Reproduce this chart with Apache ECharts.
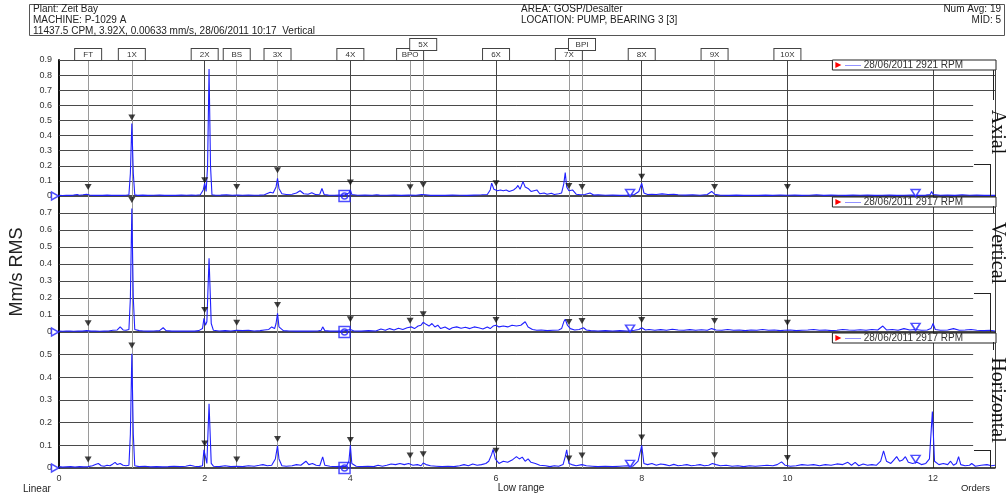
<!DOCTYPE html>
<html>
<head>
<meta charset="utf-8">
<script src="https://cdn.jsdelivr.net/npm/echarts@6/dist/echarts.min.js"></script>
<style>
html,body{margin:0;padding:0;background:#fff;}
#chart{width:1008px;height:496px;}
</style>
</head>
<body>
<div id="chart"></div>
<script>
// ---------------- DATA ----------------
const headerLeft = ['Plant: Zeit Bay', 'MACHINE: P-1029 A', '11437.5 CPM, 3.92X, 0.00633 mm/s, 28/06/2011 10:17  Vertical'];
const headerMid = ['AREA: GOSP/Desalter', 'LOCATION: PUMP, BEARING 3 [3]'];
const headerRight = ['Num Avg: 19', 'MID: 5'];

const panelTitles = ['Axial', 'Vertical', 'Horizontal'];
const legendNames = ['28/06/2011 2921 RPM', '28/06/2011 2917 RPM', '28/06/2011 2917 RPM'];
const panelMax = [0.9, 0.8, 0.6];
const xTickLabels = [0, 2, 4, 6, 8, 10, 12];

const markerNames  = ['FT', '1X', '2X', 'BS', '3X', '4X', 'BPO', '5X', '6X', '7X', 'BPI', '8X', '9X', '10X'];
const markerOrders = [0.4, 1, 2, 2.44, 3, 4, 4.82, 5, 6, 7, 7.18, 8, 9, 10];
const axialTri = [0.06, 0.52, 0.105, 0.06, 0.17, 0.09, 0.058, 0.075, 0.085, 0.066, 0.06, 0.128, 0.06, 0.06];
const vertTri  = [0.051, 0.776, 0.13, 0.055, 0.159, 0.075, 0.066, 0.104, 0.07, 0.059, 0.065, 0.07, 0.065, 0.055];
const horizTri = [0.037, 0.54, 0.108, 0.037, 0.128, 0.123, 0.055, 0.061, 0.076, 0.042, 0.055, 0.135, 0.056, 0.044];

const bandOrders = [7.84, 11.76];
const axialBand = [0.02, 0.02];
const vertBand  = [0.02, 0.03];
const horizBand = [0.018, 0.04];

const cursorOrder = 3.92;

const axialSpec = [
[0,0.004],[0.05,0.003],[0.1,0.005],[0.15,0.004],[0.2,0.006],[0.25,0.01],[0.28,0.005],[0.33,0.008],[0.38,0.012],[0.42,0.006],[0.48,0.004],[0.55,0.005],[0.6,0.004],[0.66,0.006],[0.72,0.004],[0.8,0.005],[0.86,0.004],[0.92,0.005],[0.96,0.008],[0.98,0.15],[1.0,0.48],[1.02,0.15],[1.04,0.008],[1.08,0.004],[1.15,0.006],[1.22,0.004],[1.3,0.005],[1.38,0.006],[1.45,0.004],[1.52,0.005],[1.6,0.004],[1.68,0.006],[1.75,0.005],[1.82,0.006],[1.88,0.005],[1.94,0.008],[1.98,0.04],[2.0,0.085],[2.02,0.03],[2.04,0.2],[2.06,0.84],[2.08,0.2],[2.1,0.008],[2.15,0.005],[2.22,0.006],[2.3,0.008],[2.38,0.005],[2.45,0.007],[2.52,0.005],[2.6,0.006],[2.68,0.005],[2.75,0.006],[2.82,0.008],[2.9,0.025],[2.94,0.02],[2.98,0.06],[3.0,0.117],[3.02,0.05],[3.06,0.015],[3.12,0.01],[3.2,0.012],[3.26,0.02],[3.31,0.035],[3.36,0.015],[3.42,0.012],[3.47,0.022],[3.52,0.01],[3.58,0.012],[3.61,0.05],[3.64,0.01],[3.7,0.006],[3.78,0.005],[3.85,0.006],[3.92,0.006],[3.98,0.02],[4.0,0.04],[4.02,0.01],[4.1,0.005],[4.2,0.006],[4.3,0.005],[4.36,0.008],[4.38,0.02],[4.4,0.006],[4.5,0.005],[4.6,0.006],[4.7,0.004],[4.8,0.006],[4.9,0.005],[4.98,0.01],[5.0,0.022],[5.03,0.008],[5.1,0.004],[5.2,0.005],[5.3,0.004],[5.4,0.006],[5.5,0.005],[5.6,0.004],[5.7,0.006],[5.8,0.008],[5.88,0.01],[5.92,0.04],[5.94,0.085],[5.97,0.045],[6.02,0.035],[6.06,0.04],[6.1,0.035],[6.14,0.04],[6.18,0.03],[6.24,0.04],[6.28,0.055],[6.3,0.07],[6.33,0.045],[6.37,0.095],[6.4,0.06],[6.44,0.05],[6.48,0.03],[6.52,0.035],[6.56,0.04],[6.6,0.015],[6.66,0.02],[6.7,0.012],[6.76,0.018],[6.8,0.01],[6.86,0.015],[6.9,0.02],[6.93,0.08],[6.95,0.155],[6.97,0.06],[7.0,0.035],[7.05,0.04],[7.1,0.012],[7.16,0.008],[7.22,0.01],[7.29,0.02],[7.34,0.006],[7.4,0.008],[7.5,0.005],[7.6,0.006],[7.7,0.004],[7.8,0.006],[7.9,0.01],[7.96,0.03],[8.0,0.084],[8.03,0.02],[8.08,0.01],[8.14,0.012],[8.2,0.01],[8.28,0.014],[8.36,0.01],[8.44,0.012],[8.5,0.008],[8.6,0.006],[8.7,0.008],[8.8,0.005],[8.9,0.01],[8.96,0.03],[9.0,0.012],[9.08,0.005],[9.2,0.004],[9.3,0.006],[9.4,0.004],[9.5,0.005],[9.6,0.004],[9.7,0.006],[9.8,0.004],[9.9,0.007],[10.0,0.005],[10.1,0.006],[10.2,0.004],[10.3,0.005],[10.4,0.008],[10.5,0.004],[10.6,0.006],[10.7,0.005],[10.8,0.004],[10.9,0.006],[11.0,0.005],[11.1,0.007],[11.2,0.004],[11.3,0.005],[11.4,0.006],[11.5,0.004],[11.6,0.005],[11.7,0.006],[11.8,0.004],[11.9,0.006],[11.96,0.01],[11.98,0.03],[12.0,0.01],[12.1,0.005],[12.2,0.006],[12.3,0.004],[12.4,0.008],[12.5,0.005],[12.6,0.006],[12.7,0.004],[12.8,0.005],[12.85,0.004]
];

const vertSpec = [
[0,0.005],[0.05,0.004],[0.1,0.006],[0.15,0.005],[0.2,0.004],[0.26,0.006],[0.32,0.005],[0.38,0.008],[0.44,0.005],[0.5,0.006],[0.56,0.004],[0.62,0.005],[0.68,0.006],[0.74,0.01],[0.8,0.012],[0.84,0.03],[0.88,0.012],[0.92,0.01],[0.96,0.015],[0.98,0.2],[1.0,0.727],[1.02,0.2],[1.04,0.015],[1.1,0.008],[1.16,0.006],[1.22,0.005],[1.3,0.006],[1.38,0.008],[1.43,0.025],[1.47,0.008],[1.55,0.005],[1.62,0.006],[1.7,0.005],[1.78,0.006],[1.86,0.005],[1.92,0.008],[1.97,0.02],[1.99,0.08],[2.01,0.04],[2.03,0.06],[2.06,0.433],[2.09,0.05],[2.12,0.01],[2.2,0.006],[2.28,0.008],[2.36,0.006],[2.44,0.01],[2.52,0.008],[2.6,0.01],[2.68,0.006],[2.76,0.008],[2.82,0.012],[2.88,0.015],[2.92,0.03],[2.96,0.02],[2.98,0.05],[3.0,0.11],[3.02,0.03],[3.04,0.02],[3.08,0.008],[3.16,0.006],[3.25,0.005],[3.35,0.006],[3.45,0.005],[3.55,0.006],[3.6,0.01],[3.62,0.03],[3.65,0.008],[3.72,0.005],[3.8,0.006],[3.9,0.005],[4.0,0.015],[4.05,0.006],[4.15,0.005],[4.25,0.008],[4.35,0.006],[4.42,0.018],[4.48,0.01],[4.54,0.02],[4.6,0.012],[4.66,0.022],[4.72,0.015],[4.78,0.025],[4.84,0.03],[4.88,0.02],[4.93,0.035],[4.97,0.04],[5.0,0.057],[5.04,0.045],[5.08,0.035],[5.12,0.05],[5.16,0.03],[5.2,0.04],[5.24,0.02],[5.3,0.03],[5.36,0.015],[5.4,0.025],[5.46,0.03],[5.52,0.022],[5.58,0.028],[5.64,0.02],[5.7,0.03],[5.76,0.025],[5.82,0.018],[5.88,0.03],[5.92,0.02],[5.96,0.035],[6.0,0.04],[6.04,0.03],[6.1,0.035],[6.16,0.03],[6.22,0.04],[6.28,0.035],[6.34,0.04],[6.4,0.06],[6.44,0.03],[6.5,0.015],[6.56,0.01],[6.62,0.012],[6.7,0.008],[6.78,0.01],[6.86,0.012],[6.9,0.02],[6.93,0.06],[6.95,0.075],[6.98,0.04],[7.02,0.02],[7.08,0.012],[7.14,0.015],[7.2,0.025],[7.24,0.012],[7.3,0.008],[7.4,0.006],[7.5,0.008],[7.6,0.006],[7.7,0.008],[7.8,0.006],[7.9,0.01],[7.96,0.015],[8.0,0.025],[8.05,0.012],[8.1,0.015],[8.18,0.01],[8.26,0.014],[8.34,0.01],[8.42,0.016],[8.5,0.012],[8.58,0.01],[8.66,0.014],[8.74,0.01],[8.82,0.013],[8.9,0.01],[8.96,0.02],[9.02,0.012],[9.1,0.01],[9.18,0.015],[9.26,0.01],[9.34,0.012],[9.42,0.008],[9.5,0.012],[9.58,0.01],[9.66,0.015],[9.74,0.01],[9.82,0.012],[9.9,0.008],[9.96,0.01],[10.04,0.012],[10.12,0.008],[10.2,0.01],[10.28,0.012],[10.36,0.015],[10.44,0.01],[10.52,0.012],[10.6,0.008],[10.68,0.01],[10.76,0.015],[10.84,0.012],[10.92,0.01],[11.0,0.013],[11.08,0.01],[11.16,0.015],[11.24,0.012],[11.31,0.035],[11.36,0.012],[11.44,0.015],[11.52,0.01],[11.6,0.02],[11.68,0.012],[11.76,0.015],[11.84,0.01],[11.92,0.012],[11.97,0.02],[12.0,0.05],[12.03,0.015],[12.1,0.01],[12.2,0.012],[12.28,0.02],[12.36,0.01],[12.44,0.012],[12.52,0.015],[12.6,0.01],[12.7,0.008],[12.78,0.01],[12.85,0.006]
];

const horizSpec = [
[0,0.006],[0.05,0.004],[0.1,0.005],[0.16,0.006],[0.22,0.004],[0.28,0.006],[0.34,0.005],[0.4,0.006],[0.46,0.01],[0.5,0.015],[0.54,0.02],[0.58,0.01],[0.62,0.008],[0.66,0.012],[0.7,0.01],[0.74,0.018],[0.77,0.025],[0.8,0.015],[0.84,0.02],[0.88,0.012],[0.92,0.01],[0.96,0.012],[0.98,0.15],[1.0,0.504],[1.02,0.15],[1.04,0.01],[1.1,0.006],[1.18,0.008],[1.26,0.005],[1.34,0.006],[1.42,0.005],[1.5,0.006],[1.58,0.008],[1.66,0.006],[1.74,0.008],[1.8,0.012],[1.86,0.008],[1.92,0.006],[1.97,0.01],[1.99,0.08],[2.01,0.05],[2.03,0.02],[2.06,0.283],[2.09,0.02],[2.12,0.008],[2.2,0.006],[2.28,0.01],[2.36,0.006],[2.44,0.008],[2.52,0.006],[2.6,0.01],[2.68,0.008],[2.75,0.012],[2.8,0.015],[2.86,0.01],[2.92,0.012],[2.97,0.04],[3.0,0.098],[3.02,0.04],[3.06,0.01],[3.12,0.008],[3.2,0.01],[3.26,0.015],[3.32,0.012],[3.39,0.03],[3.43,0.015],[3.48,0.02],[3.53,0.012],[3.58,0.01],[3.62,0.049],[3.65,0.012],[3.72,0.008],[3.8,0.006],[3.88,0.008],[3.94,0.006],[3.98,0.03],[4.0,0.1],[4.02,0.02],[4.08,0.008],[4.16,0.006],[4.24,0.008],[4.32,0.006],[4.38,0.012],[4.44,0.008],[4.5,0.012],[4.56,0.018],[4.62,0.015],[4.68,0.02],[4.74,0.015],[4.8,0.02],[4.86,0.012],[4.92,0.015],[4.97,0.01],[5.0,0.022],[5.04,0.015],[5.1,0.01],[5.18,0.008],[5.26,0.006],[5.34,0.008],[5.42,0.006],[5.5,0.01],[5.56,0.015],[5.62,0.01],[5.68,0.018],[5.74,0.012],[5.8,0.015],[5.86,0.02],[5.9,0.03],[5.94,0.06],[5.96,0.082],[5.99,0.04],[6.04,0.02],[6.1,0.03],[6.16,0.025],[6.22,0.035],[6.28,0.05],[6.32,0.04],[6.36,0.048],[6.4,0.03],[6.44,0.04],[6.48,0.025],[6.54,0.02],[6.6,0.012],[6.68,0.01],[6.74,0.006],[6.8,0.01],[6.86,0.008],[6.92,0.015],[6.95,0.05],[6.97,0.08],[7.0,0.02],[7.04,0.015],[7.1,0.01],[7.18,0.015],[7.24,0.01],[7.32,0.008],[7.4,0.006],[7.5,0.008],[7.6,0.006],[7.7,0.008],[7.8,0.01],[7.88,0.008],[7.95,0.03],[8.0,0.1],[8.03,0.02],[8.08,0.015],[8.14,0.02],[8.2,0.012],[8.26,0.018],[8.32,0.015],[8.38,0.01],[8.44,0.016],[8.5,0.01],[8.56,0.012],[8.62,0.015],[8.68,0.01],[8.74,0.012],[8.8,0.015],[8.86,0.01],[8.92,0.012],[8.97,0.02],[9.02,0.015],[9.08,0.01],[9.16,0.012],[9.24,0.008],[9.32,0.01],[9.4,0.006],[9.48,0.01],[9.56,0.008],[9.64,0.01],[9.72,0.012],[9.8,0.01],[9.86,0.015],[9.92,0.027],[9.97,0.012],[10.04,0.008],[10.12,0.01],[10.2,0.015],[10.28,0.012],[10.36,0.015],[10.44,0.01],[10.52,0.015],[10.6,0.012],[10.68,0.018],[10.76,0.015],[10.83,0.025],[10.88,0.012],[10.93,0.025],[10.98,0.01],[11.04,0.018],[11.1,0.012],[11.16,0.015],[11.22,0.012],[11.28,0.03],[11.32,0.076],[11.36,0.03],[11.42,0.02],[11.46,0.035],[11.5,0.05],[11.54,0.03],[11.58,0.035],[11.62,0.05],[11.66,0.025],[11.72,0.02],[11.78,0.025],[11.84,0.015],[11.9,0.02],[11.95,0.04],[11.99,0.249],[12.02,0.03],[12.08,0.015],[12.14,0.02],[12.2,0.015],[12.24,0.03],[12.28,0.012],[12.32,0.02],[12.35,0.05],[12.38,0.015],[12.44,0.01],[12.5,0.012],[12.53,0.02],[12.58,0.008],[12.66,0.012],[12.74,0.015],[12.8,0.01],[12.85,0.012]
];

// ---------------- LAYOUT ----------------
const X_MAX = 12.85, GRID_END = 12.55;
const GL = 59, GW = 936, GT = [60, 196, 332], GH = 136;
const BLUE = '#2020ff';
const FONT = '"Liberation Sans", Arial, sans-serif';
const specs = [axialSpec, vertSpec, horizSpec];
const tris = [axialTri, vertTri, horizTri];
const bands = [axialBand, vertBand, horizBand];
const longLines = [[0.9, 0.8, 0.7], [0.7], []];

const grids = [], xAxes = [], yAxes = [], series = [], legends = [];

for (let i = 0; i < 3; i++) {
  grids.push({left: GL, top: GT[i], width: GW, height: GH});
  xAxes.push({
    type: 'value', gridIndex: i, min: 0, max: X_MAX, interval: 2, z: 0,
    axisLine: {show: true, lineStyle: {color: '#111', width: 1.5}},
    axisTick: {show: false},
    axisLabel: {show: i === 2, fontSize: 9, color: '#333', fontFamily: FONT, margin: 6,
      formatter: v => xTickLabels.indexOf(v) >= 0 ? String(v) : ''},
    splitLine: {show: true, lineStyle: {color: '#444', width: 1}}
  });
  yAxes.push({
    type: 'value', gridIndex: i, min: 0, max: panelMax[i], interval: 0.1,
    axisLine: {show: true, lineStyle: {color: '#111', width: 2}},
    axisTick: {show: false},
    axisLabel: {fontSize: 9, color: '#333', fontFamily: FONT, margin: 7, showMaxLabel: i === 0,
      formatter: v => v === 0 ? '0' : v.toFixed(1)},
    splitLine: {show: false}
  });

  // grid lines + marker lines
  const ml = [];
  for (let k = 1; k * 0.1 <= panelMax[i] + 1e-9; k++) {
    const v = +(k * 0.1).toFixed(1);
    if (i > 0 && Math.abs(v - panelMax[i]) < 1e-9) continue;
    const end = longLines[i].some(t => Math.abs(t - v) < 1e-9) ? X_MAX : GRID_END;
    ml.push([{coord: [0, v]}, {coord: [end, v]}]);
  }
  markerOrders.forEach((o, k) => {
    const even = Math.abs(o % 2) < 1e-9;
    const item = {xAxis: o, name: markerNames[k],
      lineStyle: {color: even ? '#444' : '#9a9a9a', width: 1, type: 'solid'}};
    if (i === 0) {
      const raised = (markerNames[k] === '5X' || markerNames[k] === 'BPI');
      item.label = {show: true, position: 'end', formatter: '{b}', distance: raised ? 10 : 0,
        fontSize: 8, color: '#333', fontFamily: FONT, backgroundColor: '#fff',
        borderColor: '#444', borderWidth: 1, width: 24, align: 'center', padding: [1, 1, 0, 1], lineHeight: 10};
    }
    ml.push(item);
  });
  series.push({
    type: 'line', xAxisIndex: i, yAxisIndex: i, data: [[0, 0]], symbol: 'none',
    lineStyle: {width: 0}, silent: true, z: 1,
    markLine: {symbol: ['none', 'none'], silent: true, animation: false, z: 1,
      label: {show: false}, lineStyle: {color: '#4a4a4a', width: 1, type: 'solid'}, data: ml}
  });
  // spectrum
  series.push({
    name: legendNames[i], type: 'line', xAxisIndex: i, yAxisIndex: i, data: specs[i],
    showSymbol: false, symbol: 'none', lineStyle: {color: BLUE, width: 1.1}, itemStyle: {color: BLUE}, z: 3
  });
  // black marker triangles
  series.push({
    type: 'scatter', xAxisIndex: i, yAxisIndex: i, clip: false, z: 4,
    data: markerOrders.map((o, k) => [o, tris[i][k]]),
    symbol: 'triangle', symbolRotate: 180, symbolSize: [7, 6], itemStyle: {color: '#111'}
  });
  // blue hollow band triangles
  series.push({
    type: 'scatter', xAxisIndex: i, yAxisIndex: i, clip: false, z: 4,
    data: bandOrders.map((o, k) => [o, bands[i][k]]),
    symbol: 'triangle', symbolRotate: 180, symbolSize: [9, 7],
    itemStyle: {color: '#fff', borderColor: BLUE, borderWidth: 1.5}
  });
  // cursor
  series.push({
    type: 'scatter', xAxisIndex: i, yAxisIndex: i, clip: false, z: 5,
    data: [[cursorOrder, 0]], symbol: 'rect', symbolSize: 11,
    itemStyle: {color: 'rgba(0,0,0,0)', borderColor: BLUE, borderWidth: 1.5}
  });
  series.push({
    type: 'scatter', xAxisIndex: i, yAxisIndex: i, clip: false, z: 5,
    data: [[cursorOrder, 0]], symbol: 'circle', symbolSize: 6,
    itemStyle: {color: 'rgba(0,0,0,0)', borderColor: BLUE, borderWidth: 1.5}
  });
  // left start triangle
  series.push({
    type: 'scatter', xAxisIndex: i, yAxisIndex: i, clip: false, z: 5,
    data: [[0, 0]], symbol: 'triangle', symbolRotate: -90, symbolSize: [8, 7], symbolOffset: [-4, 0],
    itemStyle: {color: '#fff', borderColor: BLUE, borderWidth: 1.5}
  });

  legends.push({
    right: 12, top: GT[i] + (i === 0 ? 0 : 1), orient: 'horizontal', selectedMode: false,
    data: [legendNames[i]], icon: 'path://M0,0L10,5L0,10Z', itemWidth: 7, itemHeight: 6,
    itemStyle: {color: '#ff0000'},
    backgroundColor: '#fff', borderColor: '#222', borderWidth: 1, padding: [0, 33, 0, 3],
    formatter: n => '{ln|——} ' + n,
    textStyle: {fontSize: 10, color: '#333', fontFamily: FONT, lineHeight: 10, padding: [0, 0, 0, -2],
      rich: {ln: {color: BLUE, fontSize: 8}}}
  });
}

// ---------------- GRAPHICS (decoration text) ----------------
const graphic = [];
graphic.push({type: 'rect', shape: {x: 29.5, y: 4.5, width: 975, height: 31}, style: {fill: '#fff', stroke: '#555', lineWidth: 1}, z: 0});
function txt(t, x, y, size, align, extra) {
  return Object.assign({type: 'text', x: x, y: y, z: 10, style: {text: t, fontSize: size, fontFamily: FONT,
    fill: '#222', align: align, textAlign: align, verticalAlign: 'middle', textVerticalAlign: 'middle'}}, extra || {});
}
const hy = [9.5, 20, 31];
headerLeft.forEach((t, k) => graphic.push(txt(t, 33, hy[k], 10, 'left')));
headerMid.forEach((t, k) => graphic.push(txt(t, 521, hy[k], 10, 'left')));
headerRight.forEach((t, k) => graphic.push(txt(t, 1001, hy[k], 10, 'right')));

graphic.push(Object.assign(txt('Mm/s RMS', 17, 272, 18, 'center'), {rotation: Math.PI / 2}));
graphic.push(txt('Linear', 23, 489, 10, 'left'));
graphic.push(txt('Low range', 521, 488, 10, 'center'));
graphic.push(txt('Orders', 990, 488, 9.5, 'right'));

const labelCenters = [132, 253, 400];
const labelHalf = [24, 32, 42];
for (let i = 0; i < 3; i++) {
  const t = Object.assign(txt(panelTitles[i], 997, labelCenters[i], 20, 'center'), {rotation: -Math.PI / 2});
  t.style.fontFamily = '"Liberation Serif", "Times New Roman", serif';
  t.style.fill = '#111';
  graphic.push(t);
  const top = GT[i], bot = GT[i] + GH;
  const a = labelCenters[i] - labelHalf[i] - 8, b = labelCenters[i] + labelHalf[i] + 8;
  const ls = {stroke: '#222', lineWidth: 1};
  graphic.push({type: 'line', z: 9, shape: {x1: 993.5, y1: top + 10, x2: 993.5, y2: a}, style: ls});
  graphic.push({type: 'line', z: 9, shape: {x1: 990.5, y1: b, x2: 990.5, y2: bot}, style: ls});
  graphic.push({type: 'line', z: 9, shape: {x1: 974, y1: b + 0.5, x2: 990.5, y2: b + 0.5}, style: ls});
}

const chart = echarts.init(document.getElementById('chart'), null, {renderer: 'canvas'});
chart.setOption({
  animation: false,
  backgroundColor: '#fff',
  grid: grids, xAxis: xAxes, yAxis: yAxes, series: series, legend: legends, graphic: graphic
});
</script>
</body>
</html>
